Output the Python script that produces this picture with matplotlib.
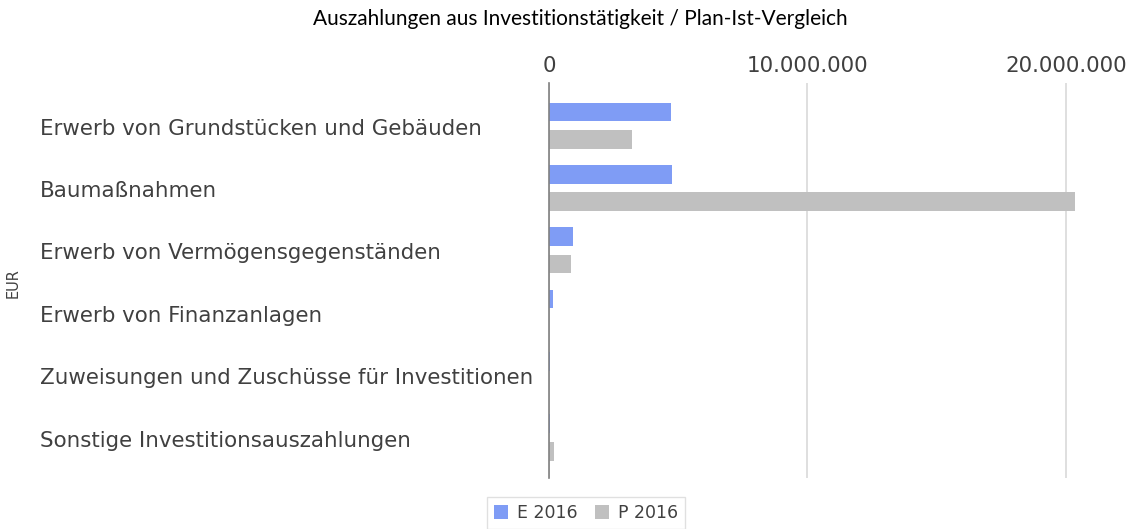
import numpy as np
import matplotlib.pyplot as plt
import matplotlib.transforms as mtrans
from matplotlib.ticker import FuncFormatter

categories = [
    "Erwerb von Grundstücken und Gebäuden",
    "Baumaßnahmen",
    "Erwerb von Vermögensgegenständen",
    "Erwerb von Finanzanlagen",
    "Zuweisungen und Zuschüsse für Investitionen",
    "Sonstige Investitionsauszahlungen",
]
e_2016 = [4720000, 4740000, 930000, 170000, 20000, 30000]
p_2016 = [3210000, 20350000, 850000, 0, 0, 200000]

plt.rcParams['font.family'] = ['DejaVu Sans']

fig = plt.figure(figsize=(11.27, 5.29), dpi=100)
ax = fig.add_axes([549 / 1127, 1 - 478 / 529, (1122 - 549) / 1127, (478 - 83) / 529])

y = np.arange(len(categories))
h = 0.3
ax.barh(y - 0.22, e_2016, height=h, color='#7f9cf5', label='E 2016', zorder=3)
ax.barh(y + 0.22, p_2016, height=h, color='#c0c0c0', label='P 2016', zorder=3)

ax.set_ylim(5.65, -0.684)
ax.set_xlim(0, 22170000)
ax.xaxis.tick_top()
ax.set_xticks([0, 10000000, 20000000])
ax.xaxis.set_major_formatter(FuncFormatter(lambda v, p: f"{int(v):,}".replace(",", ".")))
ax.tick_params(axis='x', length=0, labelsize=15.4, colors='#404040', pad=5)
ax.set_yticks([])
ax.grid(axis='x', color='#d9d9d9', lw=1.2, zorder=0)
for s in ['top', 'right', 'bottom']:
    ax.spines[s].set_visible(False)
ax.spines['left'].set_color('#808080')
ax.spines['left'].set_linewidth(1.2)
ax.spines['left'].set_zorder(4)

trans = mtrans.blended_transform_factory(fig.transFigure, ax.transData)
for i, c in enumerate(categories):
    ax.text(40 / 1127, i + 0.05, c, transform=trans, ha='left', va='center',
            fontsize=15.4, color='#404040')

fig.text(13 / 1127, 1 - 283 / 529, 'EUR', rotation=90, ha='center', va='center',
         fontsize=10.5, color='#404040')
fig.text(580 / 1127, 1 - 19 / 529, 'Auszahlungen aus Investitionstätigkeit / Plan-Ist-Vergleich',
         ha='center', va='center', fontsize=15, color='#000000', family='Lato')

leg = fig.legend(loc='center', bbox_to_anchor=(586 / 1127, 1 - 513 / 529), ncol=2,
                 frameon=True, fancybox=False, fontsize=12.5, handlelength=0.8,
                 handleheight=0.8, handletextpad=0.5, columnspacing=1.0,
                 borderpad=0.4, edgecolor='#d9d9d9')
for t in leg.get_texts():
    t.set_color('#404040')

fig.savefig('out.png', dpi=100)
